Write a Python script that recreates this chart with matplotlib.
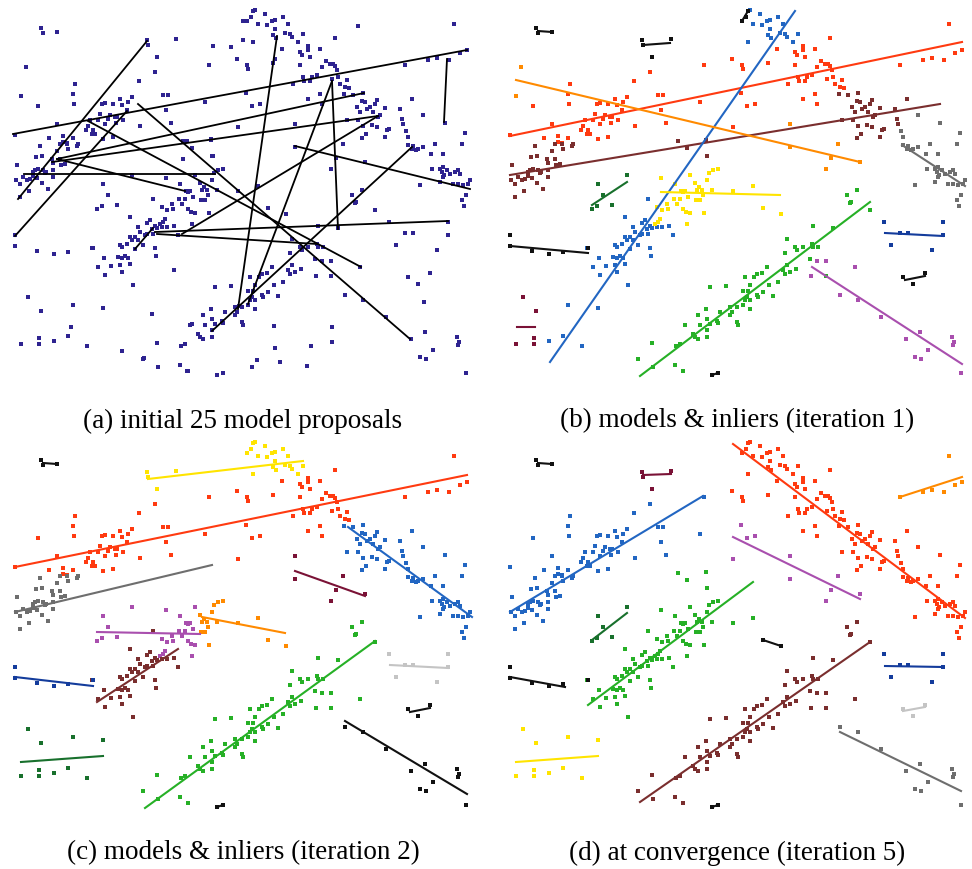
import matplotlib.pyplot as plt

# Point groups in panel pixel coordinates (x to the right, y downward)
band_upper = [(15, 136), (38, 107), (75, 85), (73, 95), (74, 105), (57, 125), (49, 139), (63, 137),
              (73, 139), (63, 143), (86, 131), (88, 127), (90, 121), (93, 131), (95, 135), (100, 115),
              (98, 121), (102, 105), (105, 104), (103, 140), (105, 125), (108, 120), (110, 116),
              (113, 105), (113, 138), (116, 124), (117, 118), (120, 100), (122, 106), (123, 121),
              (127, 111), (128, 103), (132, 98), (139, 82), (140, 127), (155, 73), (163, 96),
              (168, 96), (166, 111), (171, 124), (205, 103), (209, 66), (115, 118), (92, 135), (67, 144)]
band_lower = [(40, 147), (17, 166), (16, 181), (20, 185), (23, 178), (27, 181), (30, 180), (33, 177),
              (36, 158), (42, 157), (43, 171), (45, 174), (42, 184), (48, 190), (53, 171), (53, 178),
              (53, 164), (52, 160), (60, 160), (65, 165), (61, 166), (57, 152), (60, 145), (68, 150),
              (67, 145), (77, 147), (78, 145), (20, 198), (29, 192), (33, 173), (38, 170), (46, 173),
              (37, 179), (35, 171)]
diag_top = [(255, 11), (265, 15), (258, 25), (272, 22), (275, 21), (283, 18), (288, 25), (267, 26),
            (275, 30), (285, 34), (290, 35), (292, 38), (273, 36), (276, 39), (253, 43), (298, 43),
            (303, 35)]
diag_mid = [(308, 47), (308, 51), (320, 50), (335, 39), (282, 50), (300, 53), (302, 56), (310, 58),
            (247, 66), (248, 70), (273, 64), (300, 66), (326, 62), (330, 65), (333, 65), (335, 67),
            (337, 71), (322, 68), (317, 76), (312, 78), (303, 78), (304, 82), (310, 82), (332, 80),
            (338, 78), (347, 81), (340, 85), (345, 88), (349, 89), (293, 85), (308, 100), (320, 95),
            (322, 105), (237, 60)]
diag_low = [(344, 95), (353, 96), (363, 94), (362, 102), (365, 103), (357, 108), (360, 113), (367, 110),
            (370, 108), (375, 105), (377, 101), (385, 109), (380, 116), (378, 118), (373, 113),
            (347, 121), (358, 121), (363, 127), (372, 126), (377, 128), (387, 131), (389, 130),
            (362, 139), (366, 135), (385, 138), (400, 110), (403, 125), (402, 120), (412, 100)]
diag_end = [(423, 116), (406, 132), (408, 138), (408, 146), (413, 147), (416, 151), (412, 150),
            (418, 150), (423, 148), (431, 155), (435, 145), (443, 155), (445, 124), (440, 170),
            (443, 168), (442, 173), (447, 171), (444, 176), (450, 175), (455, 173), (458, 171),
            (460, 175), (462, 145), (465, 134), (458, 185), (463, 186), (453, 185), (440, 183),
            (432, 170), (420, 186), (468, 185), (470, 181), (443, 178), (462, 201), (464, 207), (466, 196)]
mid_low = [(153, 200), (162, 228), (167, 228), (155, 227), (150, 221), (147, 224), (152, 230),
           (157, 229), (174, 227), (178, 236), (130, 218), (138, 228), (140, 233), (147, 235),
           (153, 235), (135, 238), (130, 238), (132, 241), (138, 241), (143, 246), (145, 236),
           (120, 246), (122, 248), (127, 245), (135, 250), (155, 249), (92, 249), (104, 259),
           (118, 258), (122, 259), (125, 257), (128, 259), (120, 266), (122, 273), (156, 257),
           (130, 265), (111, 267), (98, 268), (105, 276), (133, 286)]
mid_centre = [(195, 176), (166, 179), (180, 185), (186, 192), (188, 193), (190, 192), (179, 200),
              (185, 200), (193, 198), (162, 208), (167, 211), (172, 205), (173, 210), (182, 205),
              (188, 210), (191, 213), (195, 214), (165, 220), (163, 223), (160, 225), (192, 225)]
mid_high = [(223, 170), (218, 171), (214, 174), (200, 184), (204, 188), (202, 191), (207, 191),
            (212, 181), (217, 191), (238, 192), (258, 187), (201, 201), (205, 201), (208, 196), (209, 214)]
mid_top = [(183, 142), (192, 149), (211, 141), (212, 157)]
low_diag = [(355, 204), (375, 211), (318, 227), (338, 229), (292, 240), (300, 248), (302, 251),
            (308, 248), (317, 245), (318, 248), (323, 248), (315, 260), (290, 254), (292, 266),
            (288, 271), (301, 270), (295, 273), (290, 275), (331, 277), (272, 268), (267, 274),
            (262, 275), (259, 278), (250, 278), (255, 286), (253, 292), (248, 292), (252, 298),
            (250, 301), (255, 301), (262, 296), (263, 298), (268, 293), (274, 286), (278, 297),
            (283, 283), (215, 288), (231, 287), (248, 306), (255, 310), (242, 308), (235, 308),
            (237, 313), (235, 316), (242, 323), (243, 326), (225, 313), (211, 310), (212, 320),
            (203, 316), (215, 325), (222, 322), (223, 324), (205, 326), (190, 326), (212, 331),
            (198, 335), (200, 338), (203, 340), (212, 338), (185, 345), (181, 347), (157, 344),
            (143, 360), (158, 368), (188, 372), (180, 366), (352, 196), (362, 191), (356, 203)]
low_diag_side = [(316, 277), (322, 262), (331, 262), (360, 268)]
sparse_a = [(246, 94), (252, 107), (260, 105), (238, 128)]
sparse_b = [(295, 125), (295, 148), (343, 145), (336, 159), (331, 170), (365, 163)]
corner_right = [(345, 296), (363, 301), (386, 318), (425, 333), (411, 340), (433, 351), (420, 358),
                (426, 360), (457, 338), (459, 343), (458, 346), (466, 374)]
corner_left_a = [(28, 298), (41, 312), (21, 345), (39, 339), (39, 345)]
corner_left_b = [(73, 306), (103, 309), (54, 342), (68, 337), (87, 347)]
top_right = [(454, 25), (405, 66), (428, 61), (437, 59), (449, 61), (460, 54), (467, 51)]
pair_tl = [(41, 29), (43, 34), (57, 33)]
pair_top = [(147, 41), (157, 58), (176, 40), (148, 46)]
short_green = [(103, 185), (132, 176), (108, 196), (97, 210), (102, 207), (117, 206)]
short_left = [(15, 236), (15, 247), (37, 252), (54, 255), (68, 253), (93, 249)]
pair_bottom = [(217, 376), (223, 374)]
pair_mid = [(268, 209), (286, 215)]
short_right = [(389, 223), (448, 223), (396, 246), (437, 251), (405, 234), (413, 234), (448, 236)]
triple_right = [(408, 278), (430, 274), (418, 285)]
triple_top = [(247, 22), (253, 12), (251, 18)]
stray_left = [(26, 68), (21, 97)]
outliers = [(213, 47), (231, 48), (243, 41), (243, 22), (187, 142), (211, 140), (183, 160), (213, 157),
            (174, 271), (71, 328), (122, 352), (144, 359), (187, 372), (152, 315), (239, 307),
            (192, 325), (358, 27), (275, 60), (274, 327), (311, 347), (332, 328), (332, 343),
            (275, 349), (280, 363), (257, 361), (252, 368), (307, 367), (424, 303)]

groups = {
    "band_upper": band_upper, "band_lower": band_lower,
    "diag_top": diag_top, "diag_mid": diag_mid, "diag_low": diag_low, "diag_end": diag_end,
    "mid_low": mid_low, "mid_centre": mid_centre, "mid_high": mid_high, "mid_top": mid_top,
    "low_diag": low_diag, "low_diag_side": low_diag_side,
    "sparse_a": sparse_a, "sparse_b": sparse_b, "corner_right": corner_right,
    "corner_left_a": corner_left_a, "corner_left_b": corner_left_b, "top_right": top_right,
    "pair_tl": pair_tl, "pair_top": pair_top, "short_green": short_green, "short_left": short_left,
    "pair_bottom": pair_bottom, "pair_mid": pair_mid, "short_right": short_right,
    "triple_right": triple_right, "triple_top": triple_top, "stray_left": stray_left,
    "outliers": outliers,
}

# initial proposals (a): segment end points
proposals = [(147, 42, 18, 200), (13, 135, 467, 51), (15, 237, 127, 112), (57, 160, 364, 94),
             (52, 163, 378, 117), (24, 175, 215, 175), (88, 122, 361, 268), (138, 105, 410, 340),
             (277, 37, 238, 310), (332, 82, 338, 230), (332, 82, 248, 305), (447, 60, 444, 123),
             (295, 147, 470, 190), (412, 148, 212, 332), (155, 233, 448, 222), (157, 235, 317, 245),
             (182, 235, 378, 117), (57, 160, 185, 192), (135, 250, 153, 229)]

# fitted models: (colour, inlier groups, segment)
models_b = [
    ("red", ["band_upper", "diag_mid", "sparse_a", "top_right"], (15, 137, 467, 43)),
    ("brown", ["band_lower", "diag_low", "mid_top"], (15, 176, 445, 105)),
    ("blue", ["mid_low", "diag_top", "corner_left_b"], (55, 363, 300, 12)),
    ("yellow", ["mid_centre", "mid_high", "pair_mid"], (166, 193, 285, 196)),
    ("green", ["low_diag"], (145, 377, 375, 203)),
    ("orange", ["sparse_b", "stray_left"], (21, 81, 365, 163)),
    ("gray", ["diag_end"], (407, 146, 470, 187)),
    ("magenta", ["corner_right", "low_diag_side"], (317, 268, 467, 365)),
    ("black", ["pair_tl"], (43, 32, 57, 33)),
    ("black", ["pair_top"], (148, 46, 175, 44)),
    ("black", ["short_left"], (15, 247, 93, 254)),
    ("black", ["pair_bottom"], (217, 376, 223, 374)),
    ("black", ["triple_right"], (410, 281, 430, 277)),
    ("black", ["triple_top"], (247, 22, 253, 12)),
    ("darkgreen", ["short_green"], (97, 206, 132, 183)),
    ("navy", ["short_right"], (390, 234, 448, 237)),
    ("darkred", ["corner_left_a"], (22, 328, 40, 328)),
]
models_c = [
    ("yellow", ["diag_top", "triple_top", "pair_top"], (148, 48, 303, 30)),
    ("red", ["band_upper", "diag_mid", "sparse_a", "top_right"], (15, 136, 467, 44)),
    ("gray", ["band_lower"], (15, 181, 212, 134)),
    ("blue", ["diag_low", "diag_end"], (348, 96, 472, 186)),
    ("darkred", ["sparse_b"], (295, 140, 365, 165)),
    ("magenta", ["mid_centre", "short_green"], (97, 201, 200, 203)),
    ("brown", ["mid_low"], (97, 271, 178, 218)),
    ("orange", ["mid_high", "pair_mid"], (202, 186, 285, 202)),
    ("green", ["low_diag", "low_diag_side"], (145, 377, 375, 210)),
    ("navy", ["short_left"], (15, 246, 93, 255)),
    ("darkgreen", ["corner_left_a", "corner_left_b"], (21, 331, 103, 325)),
    ("lightgray", ["short_right"], (390, 234, 448, 237)),
    ("black", ["corner_right"], (345, 290, 467, 363)),
    ("black", ["pair_tl"], (43, 32, 57, 33)),
    ("black", ["pair_bottom"], (217, 376, 223, 374)),
    ("black", ["triple_right"], (410, 281, 430, 277)),
]
models_d = [
    ("blue", ["band_upper", "band_lower"], (15, 181, 208, 65)),
    ("red", ["diag_top", "diag_mid", "diag_low", "diag_end", "triple_top"], (238, 13, 470, 187)),
    ("green", ["mid_low", "mid_centre", "mid_high", "mid_top"], (93, 274, 258, 151)),
    ("brown", ["low_diag", "low_diag_side"], (145, 371, 375, 211)),
    ("magenta", ["sparse_a", "sparse_b"], (238, 106, 365, 168)),
    ("gray", ["corner_right"], (345, 301, 466, 360)),
    ("yellow", ["corner_left_a", "corner_left_b"], (21, 331, 103, 325)),
    ("orange", ["top_right"], (405, 66, 467, 46)),
    ("darkred", ["pair_top"], (148, 44, 176, 43)),
    ("black", ["pair_tl"], (43, 32, 57, 33)),
    ("darkgreen", ["short_green"], (97, 209, 132, 182)),
    ("black", ["short_left"], (15, 246, 70, 256)),
    ("black", ["pair_bottom"], (217, 376, 223, 374)),
    ("black", ["pair_mid"], (268, 209, 286, 215)),
    ("navy", ["short_right"], (390, 235, 448, 236)),
    ("lightgray", ["triple_right"], (408, 280, 430, 276)),
]

captions = ["(a) initial 25 model proposals", "(b) models & inliers (iteration 1)",
            "(c) models & inliers (iteration 2)", "(d) at convergence (iteration 5)"]

palette = {
    "red": "#ff3a10", "blue": "#2266c2", "green": "#26b026", "brown": "#7a2e2e",
    "magenta": "#a94fae", "gray": "#6e6e6e", "yellow": "#ffe400", "orange": "#ff8a00",
    "darkred": "#7a1236", "black": "#111111", "darkgreen": "#18702c", "navy": "#143c9c",
    "lightgray": "#c4c4c4",
}

W, H = 972, 870
fig = plt.figure(figsize=(W / 100, H / 100), dpi=100)


def panel(left, top, width=480, height=390):
    ax = fig.add_axes([left / W, 1 - (top + height) / H, width / W, height / H])
    ax.set_xlim(0, width)
    ax.set_ylim(height, 0)
    ax.axis("off")
    return ax


def scatter(ax, pts, color):
    xs = [p[0] for p in pts]
    ys = [p[1] for p in pts]
    ax.scatter(xs, ys, s=12, marker="s", color=color, linewidths=0, zorder=2)


# (a) every point plus the raw proposals
ax = panel(0, 0)
for pts in groups.values():
    scatter(ax, pts, "#2e2390")
for x0, y0, x1, y1 in proposals:
    ax.plot([x0, x1], [y0, y1], color="black", lw=1.3, zorder=3)

# (b)-(d) inliers coloured by model
for models, (left, top) in zip([models_b, models_c, models_d], [(495, 0), (0, 432), (495, 432)]):
    ax = panel(left, top, width=477)
    for cname, members, (x0, y0, x1, y1) in models:
        col = palette[cname]
        for g in members:
            scatter(ax, groups[g], col)
        ax.plot([x0, x1], [y0, y1], color=col, lw=1.5, zorder=3)

for text, (cx, cy) in zip(captions, [(243, 421), (737, 421), (243, 853), (737, 853)]):
    fig.text(cx / W, 1 - cy / H, text, ha="center", va="center",
             fontsize=19.5, family="Liberation Serif")

fig.savefig("out.png", dpi=100)
